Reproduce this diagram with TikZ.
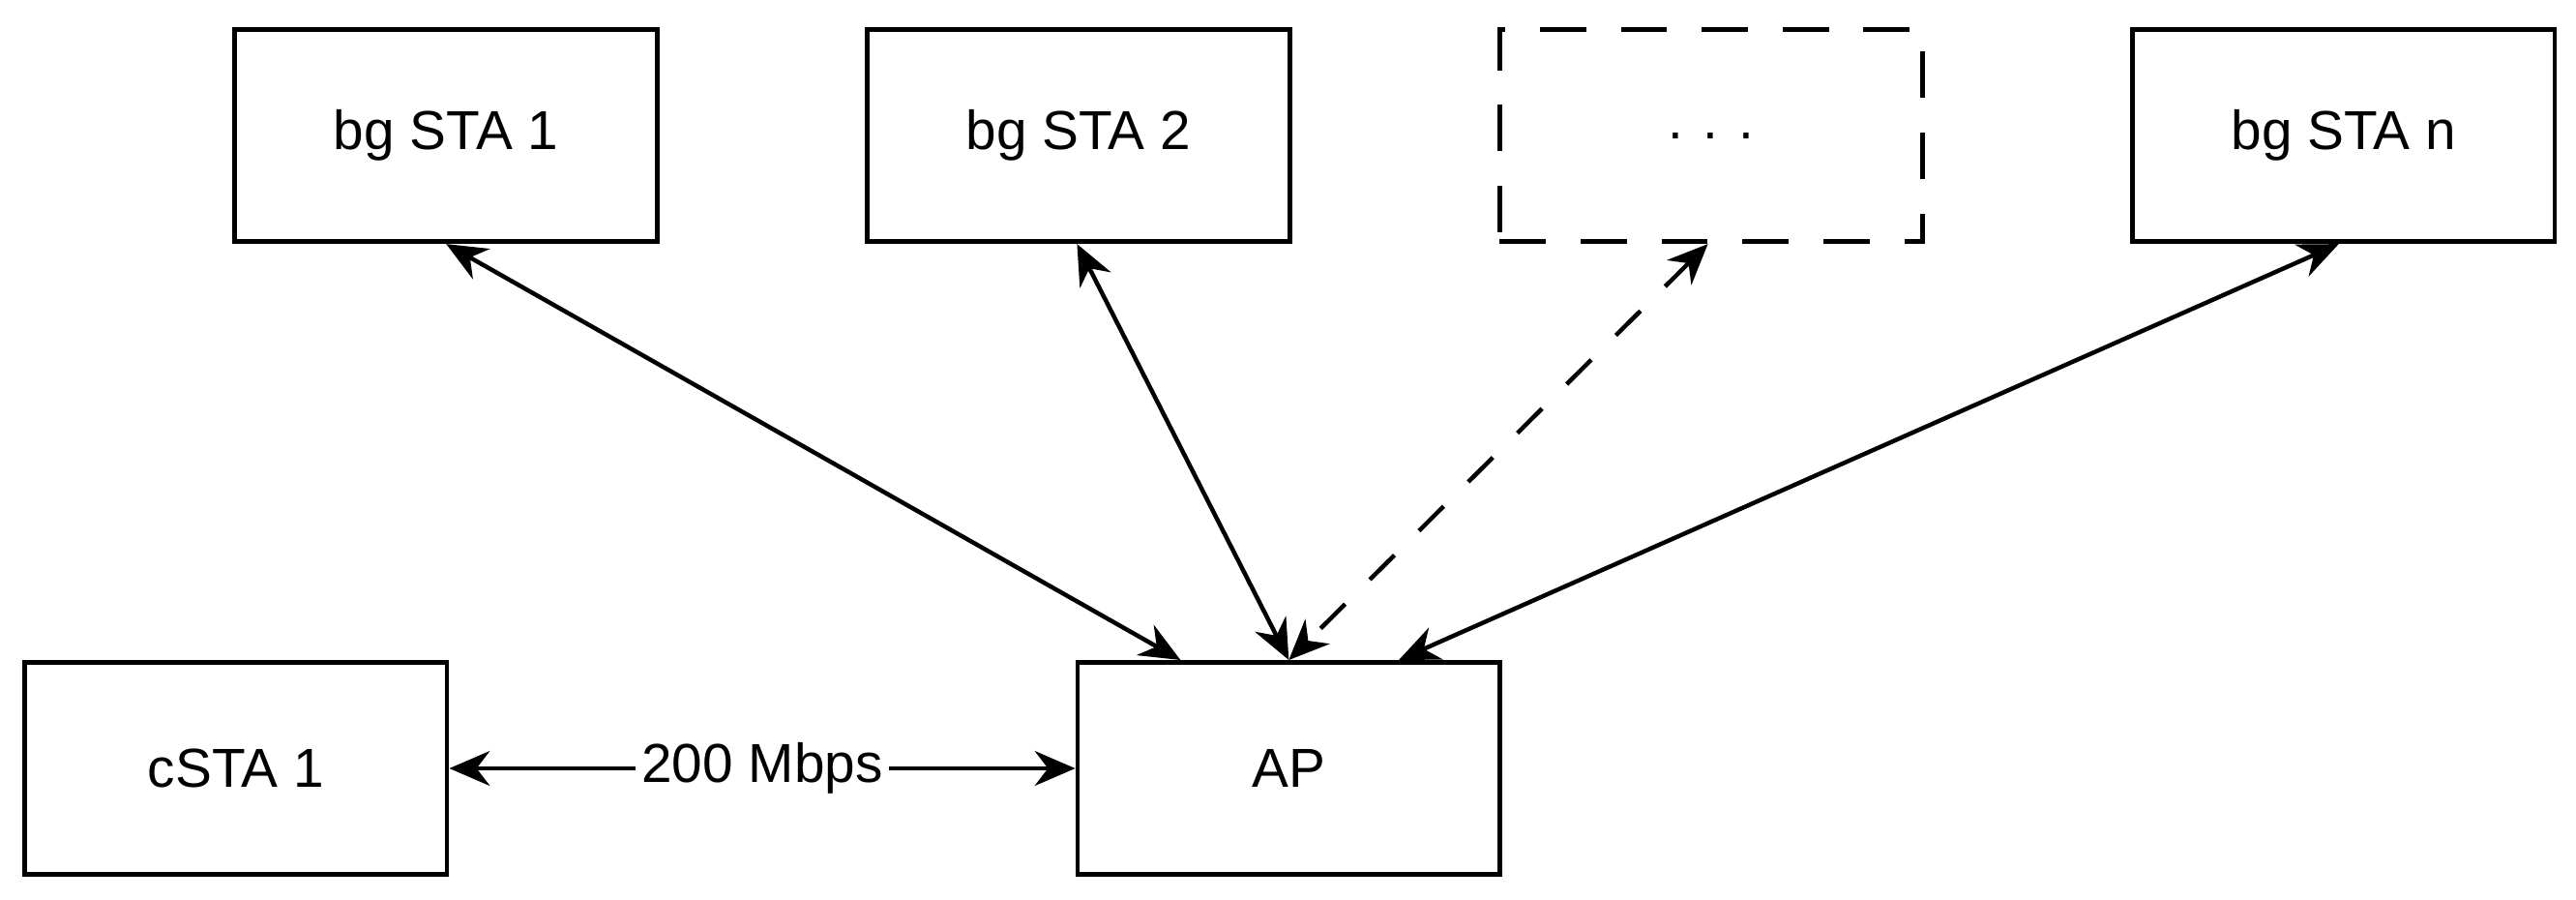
\documentclass[tikz,border=0pt]{standalone}
\usepackage{fontspec}
\setmainfont{Liberation Sans}
\usetikzlibrary{arrows.meta}
\begin{document}
\begin{tikzpicture}[x=0.01cm,y=-0.01cm,
  box/.style={draw,line width=0.8pt,minimum width=2.57cm,minimum height=1.29cm,inner sep=0pt,font=\fontsize{9.5}{11}\selectfont},
  con/.style={line width=0.75pt,{Stealth[length=7pt,width=6pt]}-{Stealth[length=7pt,width=6pt]}}]
\useasboundingbox (0,0) rectangle (1568,547);
\node[box] (b1) at (271.5,82.5) {bg STA 1};
\node[box] (b2) at (656.5,82.5) {bg STA 2};
\node[box,dash pattern=on 8pt off 6pt] (dd) at (1041.5,82.5) {. . .};
\node[box] (bn) at (1426.5,82.5) {bg STA n};
\node[box] (c1) at (143.5,467.5) {cSTA 1};
\node[box] (ap) at (784.5,467.5) {AP};
\draw[con] ([xshift=1.3cm]b1.south west) -- ([xshift=0.64cm]ap.north west);
\draw[con] ([xshift=1.29cm]b2.south west) -- (ap.north);
\draw[con,dash pattern=on 6pt off 6pt] ([xshift=1.28cm]dd.south west) -- (ap.north);
\draw[con] ([xshift=1.27cm]bn.south west) -- ([xshift=-0.63cm]ap.north east);
\draw[con] (c1.east) -- node[fill=white,inner sep=1pt,font=\fontsize{9.5}{11}\selectfont]{200 Mbps} (ap.west);
\end{tikzpicture}
\end{document}
